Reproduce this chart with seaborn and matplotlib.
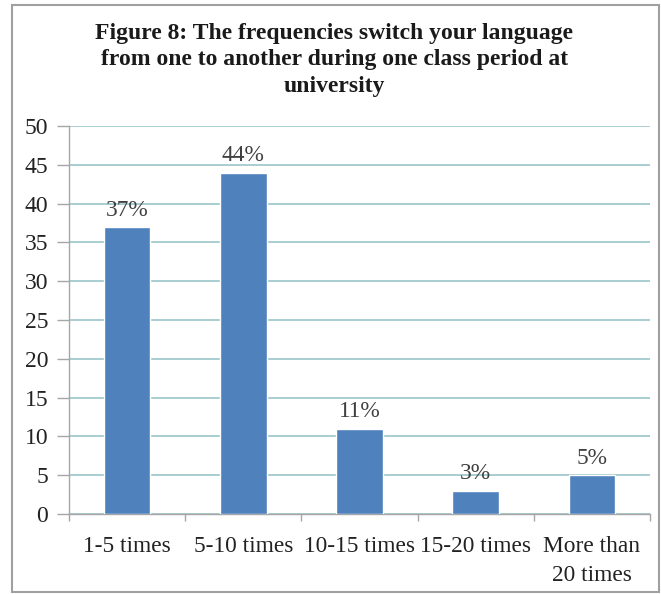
import matplotlib
matplotlib.use("Agg")
import matplotlib.pyplot as plt
import seaborn as sns
import pandas as pd
from matplotlib.patches import Rectangle

categories = ["1-5 times", "5-10 times", "10-15 times", "15-20 times", "More than\n20 times"]
values = [37, 44, 11, 3, 5]
labels = ["37%", "44%", "11%", "3%", "5%"]
yticks = [0, 5, 10, 15, 20, 25, 30, 35, 40, 45, 50]
title = ("Figure 8: The frequencies switch your language\n"
         "from one to another during one class period at\n"
         "university")

sns.set_theme(style="white")
plt.rcParams["font.family"] = ["Liberation Serif", "DejaVu Serif"]

df = pd.DataFrame({"cat": categories, "val": values})

fig = plt.figure(figsize=(6.61, 5.94), dpi=100)
ax = fig.add_axes([69 / 661, 1 - 514 / 594, 581 / 661, 388 / 594])

sns.barplot(data=df, x="cat", y="val", color="#4F81BD", width=0.4,
            saturation=1, ax=ax, zorder=3)

ax.set_ylim(0, 50)
ax.set_xlim(-0.5, len(categories) - 0.5)
ax.set_yticks(yticks)
ax.set_yticklabels([str(t) for t in yticks], fontsize=17, color="#222222")
ax.set_xlabel("")
ax.set_ylabel("")

ax.yaxis.grid(True, color="#A3C9CF", linewidth=1.3, zorder=0)
ax.set_axisbelow(True)

for s in ["top", "right"]:
    ax.spines[s].set_visible(False)
for s in ["left", "bottom"]:
    ax.spines[s].set_color("#A6A6A6")
    ax.spines[s].set_linewidth(1.0)

ax.tick_params(axis="y", which="major", length=9, width=1, color="#A6A6A6",
               pad=6, left=True)
ax.tick_params(axis="x", which="major", length=0, pad=16)
ax.set_xticks([i - 0.5 for i in range(len(categories) + 1)], minor=True)
ax.tick_params(axis="x", which="minor", length=5, width=1, color="#A6A6A6",
               bottom=True)
for t in ax.get_xticklabels():
    t.set_fontsize(16.8)
    t.set_color("#222222")
    t.set_linespacing(1.5)
    t.set_multialignment("center")

ax.bar_label(ax.containers[0], labels=labels, padding=4.5, fontsize=16.8,
             color="#404040")

fig.text(334.5 / 661, 1 - 60 / 594, title, ha="center", va="center",
         fontsize=17, fontweight="bold", color="#1a1a1a",
         linespacing=1.35, multialignment="center")

fig.patches.append(Rectangle((12 / 661, 2 / 594), 647 / 661, 587 / 594,
                             transform=fig.transFigure, fill=False,
                             edgecolor="#A0A0A0", linewidth=1.5))

fig.savefig("out.png", dpi=100, facecolor="white")
